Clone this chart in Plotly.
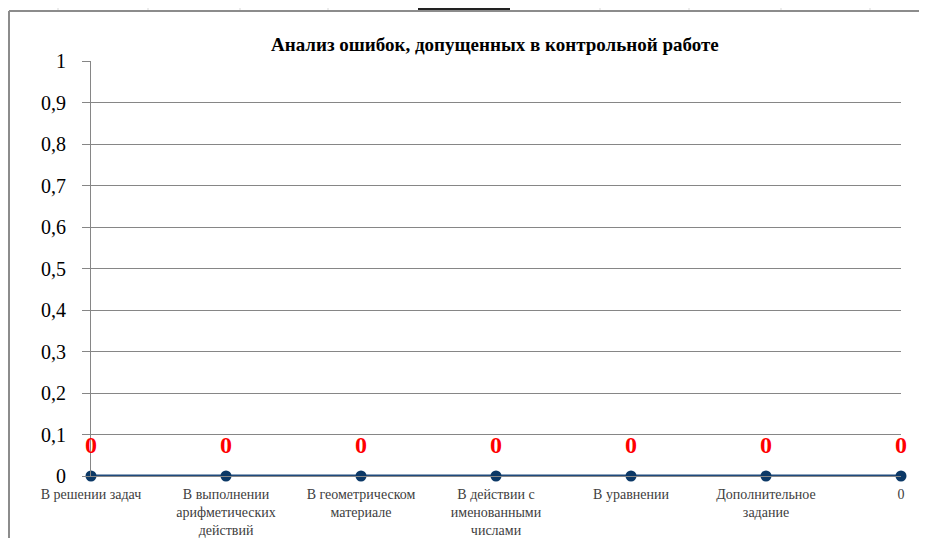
import plotly.graph_objects as go

OFF = 8  # default page body margin of the html page
PAGE_W, PAGE_H = 927, 538
PL, PR, PT, PB = 91, 901, 61, 476  # plot area edges in page pixels

categories = [
    "В решении задач",
    "В выполнении<br>арифметических<br>действий",
    "В геометрическом<br>материале",
    "В действии с<br>именованными<br>числами",
    "В уравнении",
    "Дополнительное<br>задание",
    "0",
]
values = [0, 0, 0, 0, 0, 0, 0]
y_tickvals = [0, 0.1, 0.2, 0.3, 0.4, 0.5, 0.6, 0.7, 0.8, 0.9, 1]
y_ticktext = ["0", "0,1", "0,2", "0,3", "0,4", "0,5", "0,6", "0,7", "0,8", "0,9", "1"]
title = "Анализ ошибок, допущенных в контрольной работе"

W, H = PAGE_W - OFF, PAGE_H - OFF
L, T = PL - OFF, PT - OFF
R, B = W - (PR - OFF), H - (PB - OFF)
pw, ph = PR - PL, PB - PT


def px(x):
    return (x - PL) / pw


def py(y):
    return (PB - y) / ph


xs = list(range(len(categories)))

fig = go.Figure()
fig.add_trace(go.Scatter(
    x=xs, y=values, mode="lines+markers",
    line=dict(color="#1F4A7C", width=3),
    marker=dict(color="#0B3866", size=11),
    cliponaxis=False, showlegend=False, hoverinfo="skip",
))

annotations = [
    dict(x=x, y=v, xref="x", yref="y", text=str(v), showarrow=False,
         yshift=31, font=dict(family="Liberation Serif", size=24, color="#FF0000", weight="bold"))
    for x, v in zip(xs, values)
]
annotations.append(dict(
    x=px(495), y=py(45), xref="paper", yref="paper", text=title, showarrow=False,
    font=dict(family="Liberation Serif", size=19, color="#000000", weight="bold"),
    xanchor="center", yanchor="middle",
))

grey = "#D9D9D9"
shapes = []
# spreadsheet cell lines outside chart
for cx in [58, 148, 240, 328, 420, 509, 600, 689, 781, 870]:
    shapes.append(dict(type="line", xref="paper", yref="paper", x0=px(cx), x1=px(cx), y0=py(OFF), y1=py(11),
                       line=dict(color=grey, width=1)))
# black selected cell box
shapes.append(dict(type="rect", xref="paper", yref="paper", x0=px(419), x1=px(509), y0=py(OFF - 5), y1=py(OFF + 1),
                   line=dict(color="#222222", width=2)))
# chart area border
shapes.append(dict(type="line", xref="paper", yref="paper", x0=px(OFF + 1), x1=px(PAGE_W + 5), y0=py(11), y1=py(11),
                   line=dict(color="#8C8C8C", width=2)))
shapes.append(dict(type="line", xref="paper", yref="paper", x0=px(OFF + 1), x1=px(OFF + 1), y0=py(11), y1=py(PAGE_H + 5),
                   line=dict(color="#8C8C8C", width=2)))

fig.update_layout(
    width=W, height=H,
    margin=dict(l=L, r=R, t=T, b=B, pad=0),
    paper_bgcolor="white", plot_bgcolor="white",
    separators=", ",
    annotations=annotations,
    shapes=shapes,
    xaxis=dict(
        range=[0, len(categories) - 1],
        tickvals=xs, ticktext=categories,
        showgrid=False, zeroline=False,
        showline=True, linecolor="#868686", linewidth=1,
        ticks="", tickangle=0,
        tickfont=dict(family="Liberation Serif", size=14, color="#404040"),
        ticklabelstandoff=5,
        automargin=False,
        fixedrange=True,
    ),
    yaxis=dict(
        range=[0, 1],
        tickvals=y_tickvals, ticktext=y_ticktext,
        showgrid=True, gridcolor="#868686", gridwidth=1,
        zeroline=False,
        showline=True, linecolor="#868686", linewidth=1,
        ticks="outside", ticklen=8, tickcolor="#868686",
        tickfont=dict(family="Liberation Serif", size=20, color="#000000"),
        ticklabelstandoff=12,
        automargin=False,
        fixedrange=True,
    ),
)

fig.write_html("out.html")
